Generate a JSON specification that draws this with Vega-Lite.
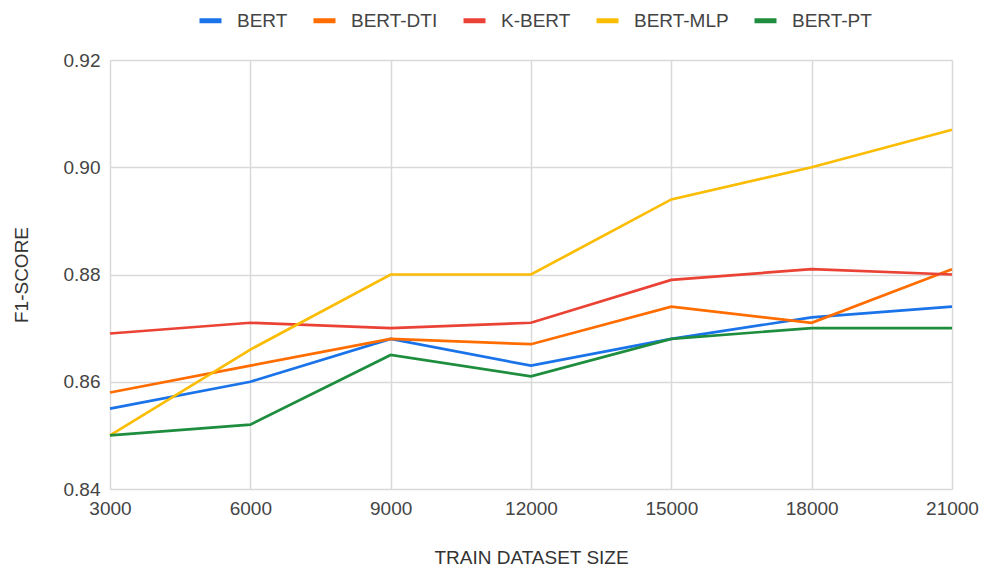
{
  "$schema": "https://vega.github.io/schema/vega-lite/v6.json",
  "width": 842,
  "height": 429,
  "autosize": {"type": "none"},
  "padding": {"left": 110, "top": 60, "right": 30, "bottom": 79},
  "background": "white",
  "config": {
    "font": "Liberation Sans",
    "view": {"stroke": null},
    "axis": {"labelFont": "Liberation Sans", "titleFont": "Liberation Sans", "labelColor": "#444444", "titleColor": "#333333", "labelFontSize": 19, "titleFontSize": 19, "titleFontWeight": "normal", "gridColor": "#d9d9d9", "gridWidth": 1.5, "domain": false, "ticks": false}
  },
  "data": {
    "values": [
      {"size": 3000, "model": "BERT", "f1": 0.855},
      {"size": 6000, "model": "BERT", "f1": 0.860},
      {"size": 9000, "model": "BERT", "f1": 0.868},
      {"size": 12000, "model": "BERT", "f1": 0.863},
      {"size": 15000, "model": "BERT", "f1": 0.868},
      {"size": 18000, "model": "BERT", "f1": 0.872},
      {"size": 21000, "model": "BERT", "f1": 0.874},
      {"size": 3000, "model": "BERT-DTI", "f1": 0.858},
      {"size": 6000, "model": "BERT-DTI", "f1": 0.863},
      {"size": 9000, "model": "BERT-DTI", "f1": 0.868},
      {"size": 12000, "model": "BERT-DTI", "f1": 0.867},
      {"size": 15000, "model": "BERT-DTI", "f1": 0.874},
      {"size": 18000, "model": "BERT-DTI", "f1": 0.871},
      {"size": 21000, "model": "BERT-DTI", "f1": 0.881},
      {"size": 3000, "model": "K-BERT", "f1": 0.869},
      {"size": 6000, "model": "K-BERT", "f1": 0.871},
      {"size": 9000, "model": "K-BERT", "f1": 0.870},
      {"size": 12000, "model": "K-BERT", "f1": 0.871},
      {"size": 15000, "model": "K-BERT", "f1": 0.879},
      {"size": 18000, "model": "K-BERT", "f1": 0.881},
      {"size": 21000, "model": "K-BERT", "f1": 0.880},
      {"size": 3000, "model": "BERT-MLP", "f1": 0.850},
      {"size": 6000, "model": "BERT-MLP", "f1": 0.866},
      {"size": 9000, "model": "BERT-MLP", "f1": 0.880},
      {"size": 12000, "model": "BERT-MLP", "f1": 0.880},
      {"size": 15000, "model": "BERT-MLP", "f1": 0.894},
      {"size": 18000, "model": "BERT-MLP", "f1": 0.900},
      {"size": 21000, "model": "BERT-MLP", "f1": 0.907},
      {"size": 3000, "model": "BERT-PT", "f1": 0.850},
      {"size": 6000, "model": "BERT-PT", "f1": 0.852},
      {"size": 9000, "model": "BERT-PT", "f1": 0.865},
      {"size": 12000, "model": "BERT-PT", "f1": 0.861},
      {"size": 15000, "model": "BERT-PT", "f1": 0.868},
      {"size": 18000, "model": "BERT-PT", "f1": 0.870},
      {"size": 21000, "model": "BERT-PT", "f1": 0.870}
    ]
  },
  "mark": {"type": "line", "strokeWidth": 2.7},
  "encoding": {
    "x": {
      "field": "size", "type": "quantitative", "title": "TRAIN DATASET SIZE",
      "scale": {"domain": [3000, 21000], "nice": false, "zero": false},
      "axis": {"values": [3000, 6000, 9000, 12000, 15000, 18000, 21000], "format": "d", "labelPadding": 10, "titlePadding": 30, "labelFlush": false}
    },
    "y": {
      "field": "f1", "type": "quantitative", "title": "F1-SCORE",
      "scale": {"domain": [0.84, 0.92], "nice": false, "zero": false},
      "axis": {"values": [0.84, 0.86, 0.88, 0.90, 0.92], "format": ".2f", "labelPadding": 10, "titlePadding": 32}
    },
    "color": {
      "field": "model", "type": "nominal",
      "scale": {"domain": ["BERT", "BERT-DTI", "K-BERT", "BERT-MLP", "BERT-PT"], "range": ["#1a73e8", "#ff6d01", "#ea4335", "#fbbc04", "#1e8e3e"]},
      "legend": {
        "title": null, "orient": "none", "direction": "horizontal", "legendX": 87, "legendY": -53,
        "symbolType": "stroke", "symbolStrokeWidth": 5, "symbolSize": 484,
        "labelFontSize": 19, "labelColor": "#444444", "labelFont": "Liberation Sans", "columnPadding": 15, "labelOffset": 13
      }
    }
  }
}
